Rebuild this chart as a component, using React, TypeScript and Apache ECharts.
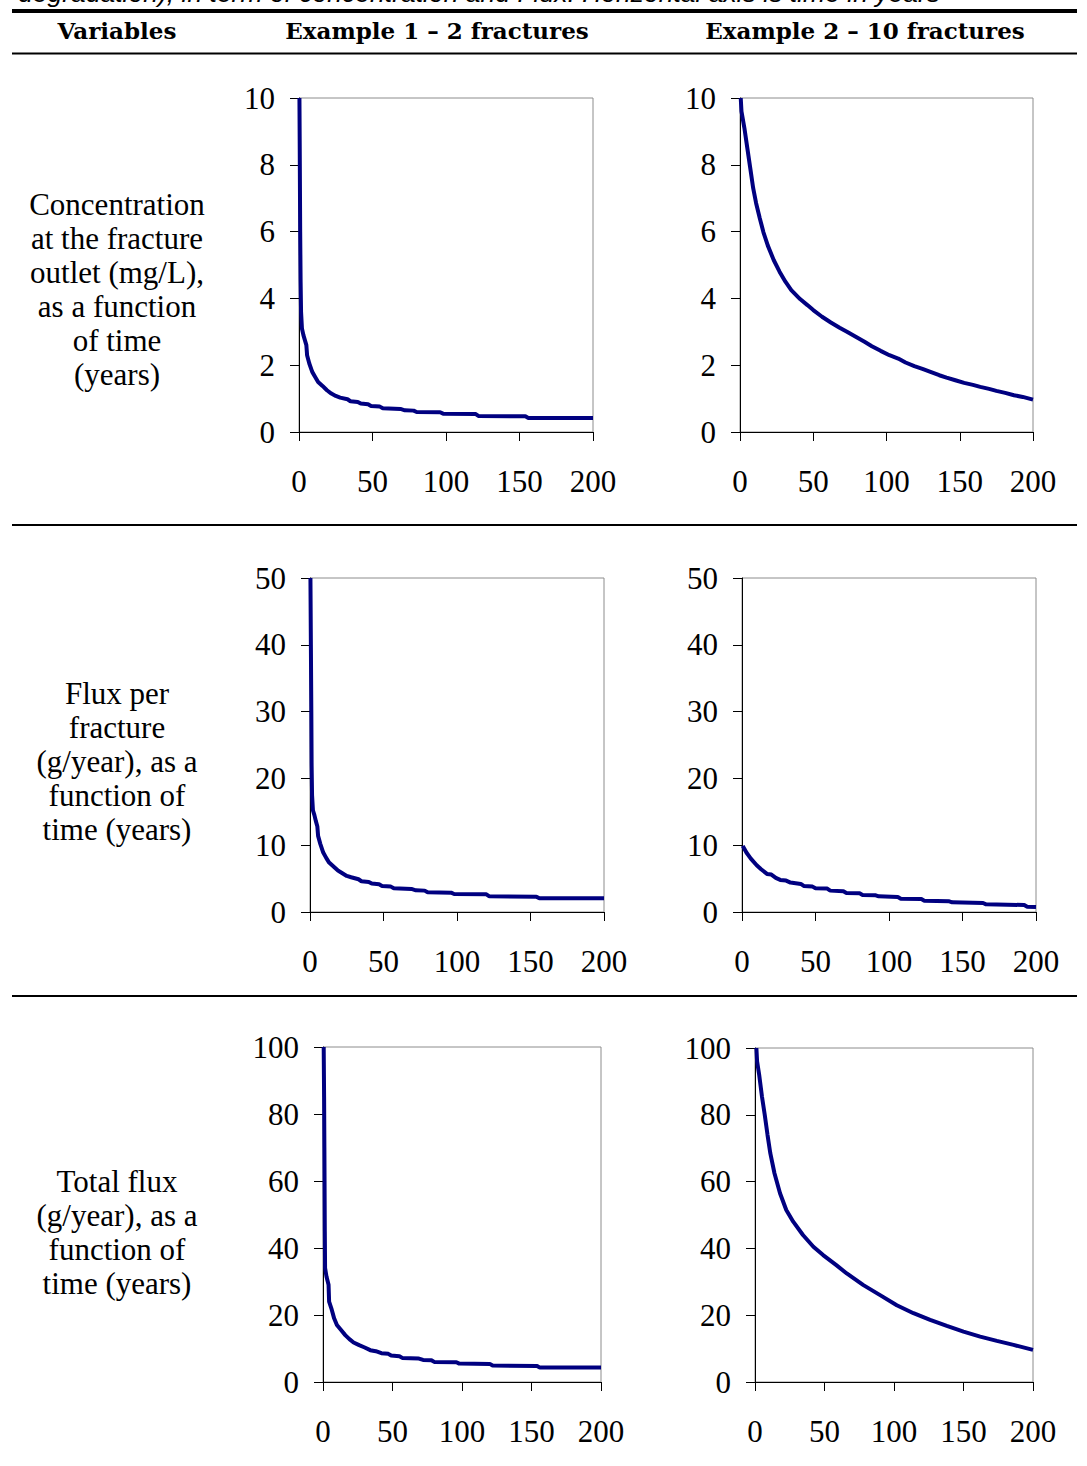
import React, { useEffect, useRef } from "react";
import * as echarts from "echarts";

// ---- Table texts ----
const captionText = "degradation), in term of concentration and Flux. Horizontal axis is time in years";
const headerTexts = ["Variables", "Example 1 – 2 fractures", "Example 2 – 10 fractures"];
const rowLabels = [
  "Concentration\nat the fracture\noutlet (mg/L),\nas a function\nof time\n(years)",
  "Flux per\nfracture\n(g/year), as a\nfunction of\ntime (years)",
  "Total flux\n(g/year), as a\nfunction of\ntime (years)",
];

// ---- Axis ranges ----
const xMax = 200;
const xInterval = 50;
const yMaxByRow = [10, 50, 100];
const yIntervalByRow = [2, 10, 20];

// ---- Data: [time (years), value] ----
const ex1Concentration = [
  [0.3, 10], [0.5, 8.5], [0.8, 6], [1.1, 4.5], [1.4, 3.6], [2, 3.1], [3, 2.9], [4, 2.75], [5, 2.6],
  [5.5, 2.3], [7, 2.05], [9, 1.8], [11, 1.65], [13, 1.5], [16, 1.38], [19, 1.25], [22, 1.15],
  [25, 1.08], [28, 1.03], [33, 0.98], [35, 0.92], [40, 0.9], [42, 0.85], [47, 0.83], [49, 0.78],
  [55, 0.76], [57, 0.71], [69, 0.69], [72, 0.65], [78, 0.64], [80, 0.6], [96, 0.59], [98, 0.55],
  [120, 0.54], [122, 0.48], [154, 0.47], [156, 0.42], [200, 0.42],
];
const ex2Concentration = [
  [0.5, 10], [1, 9.6], [3, 9.1], [5, 8.5], [7, 7.9], [9, 7.3], [11, 6.85], [13.5, 6.4], [16, 5.98],
  [19, 5.58], [23, 5.15], [27, 4.8], [31, 4.5], [35, 4.25], [41, 3.98], [46, 3.8], [50, 3.65],
  [56, 3.45], [62, 3.28], [68, 3.12], [73, 3.0], [79, 2.85], [85, 2.7], [90, 2.57], [96, 2.43],
  [102, 2.3], [108, 2.2], [113, 2.08], [119, 1.97], [125, 1.88], [130, 1.8], [136, 1.7],
  [141, 1.63], [147, 1.55], [153, 1.47], [159, 1.41], [164, 1.35], [170, 1.29], [175, 1.23],
  [181, 1.17], [187, 1.1], [193, 1.05], [200, 0.97],
];
const ex1FluxPerFracture = [
  [0.3, 50], [0.6, 40], [0.9, 30], [1.1, 22], [1.4, 17.5], [2, 15.2], [3, 14.5], [4, 13.6],
  [5, 12.8], [5.5, 11.4], [7, 10.2], [9, 8.9], [11, 8.1], [13, 7.4], [16, 6.8], [19, 6.2],
  [22, 5.8], [25, 5.4], [28, 5.2], [33, 4.9], [35, 4.6], [40, 4.5], [42, 4.25], [47, 4.15],
  [49, 3.9], [55, 3.8], [57, 3.55], [69, 3.45], [72, 3.25], [78, 3.2], [80, 2.95], [96, 2.9],
  [98, 2.7], [120, 2.65], [122, 2.35], [154, 2.3], [156, 2.05], [200, 2.05],
];
const ex2FluxPerFracture = [
  [0.5, 9.9], [3, 8.9], [6, 8.0], [10, 7.0], [13, 6.4], [17, 5.7], [20, 5.6], [23, 5.1],
  [26, 4.8], [30, 4.7], [33, 4.4], [40, 4.2], [42, 3.9], [48, 3.8], [50, 3.55], [58, 3.5],
  [60, 3.2], [69, 3.1], [71, 2.85], [80, 2.8], [82, 2.55], [91, 2.5], [93, 2.35], [106, 2.25],
  [108, 2.0], [122, 1.95], [124, 1.7], [141, 1.6], [143, 1.45], [164, 1.35], [166, 1.15],
  [192, 1.05], [194, 0.8], [200, 0.75],
];
const ex1TotalFlux = [
  [0.5, 100], [0.8, 85], [1, 70], [1.3, 45], [1.5, 34], [2.5, 31.5], [4, 29], [4.4, 24],
  [6, 22], [8, 19], [10, 17], [13, 15.5], [16, 14], [19, 12.8], [22, 11.8], [26, 11],
  [30, 10.3], [34, 9.5], [38, 9.2], [42, 8.6], [47, 8.4], [49, 7.9], [55, 7.7], [57, 7.2],
  [69, 7], [72, 6.6], [78, 6.5], [80, 6.0], [96, 5.9], [98, 5.5], [120, 5.4], [122, 4.9],
  [154, 4.8], [156, 4.3], [200, 4.3],
];
const ex2TotalFlux = [
  [1, 100], [1.5, 96], [3, 92], [5, 85.5], [7, 80], [9, 74], [11, 68.5], [14, 62.5],
  [18, 56.5], [22.5, 51.5], [27.5, 48], [34.5, 44], [42, 40.5], [49, 38], [58.5, 35], [66, 32.5],
  [78, 29], [90, 26], [102, 23], [114, 20.6], [126, 18.6], [138, 16.8], [150, 15.1],
  [162, 13.6], [174, 12.3], [186, 11.1], [200, 9.6],
];

const seriesData = [
  ex1Concentration, ex2Concentration,
  ex1FluxPerFracture, ex2FluxPerFracture,
  ex1TotalFlux, ex2TotalFlux,
];

// ---- Layout (pixels) ----
const gridBoxes = [
  { left: 299, top: 98, width: 294, height: 334 },
  { left: 740, top: 98, width: 293, height: 334 },
  { left: 310, top: 578, width: 294, height: 334 },
  { left: 742, top: 578, width: 294, height: 334 },
  { left: 323, top: 1047, width: 278, height: 335 },
  { left: 755, top: 1048, width: 278, height: 334 },
];

const W = 1087;
const H = 1466;
const SERIF = "'Liberation Serif', 'Times New Roman', serif";
const HEAD = "'DejaVu Serif', serif";

export default function App() {
  const ref = useRef<HTMLDivElement>(null);
  useEffect(() => {
    if (!ref.current) return;
    const chart = echarts.init(ref.current, undefined, { renderer: "svg", width: W, height: H });
    const grids = gridBoxes.map((b) => ({
      ...b,
      show: true,
      borderColor: "#8c8c8c",
      borderWidth: 1,
      backgroundColor: "transparent",
      containLabel: false,
      outerBoundsMode: "none",
    }));
    const xAxes = gridBoxes.map((_, i) => ({
      type: "value",
      gridIndex: i,
      min: 0,
      max: xMax,
      interval: xInterval,
      axisLine: { show: true, onZero: false, lineStyle: { color: "#000", width: 1 } },
      axisTick: { show: true, length: 9, lineStyle: { color: "#000" } },
      axisLabel: { margin: 34, fontFamily: SERIF, fontSize: 31, color: "#000", showMinLabel: true, showMaxLabel: true },
      splitLine: { show: false },
    }));
    const yAxes = gridBoxes.map((_, i) => {
      const r = Math.floor(i / 2);
      return {
        type: "value",
        gridIndex: i,
        min: 0,
        max: yMaxByRow[r],
        interval: yIntervalByRow[r],
        axisLine: { show: true, onZero: false, lineStyle: { color: "#000", width: 1 } },
        axisTick: { show: true, length: 9, lineStyle: { color: "#000" } },
        axisLabel: { margin: 24, fontFamily: SERIF, fontSize: 31, color: "#000", showMinLabel: true, showMaxLabel: true },
        splitLine: { show: false },
      };
    });
    const series = seriesData.map((d, i) => ({
      type: "line",
      xAxisIndex: i,
      yAxisIndex: i,
      data: d,
      showSymbol: false,
      symbol: "none",
      clip: true,
      lineStyle: { color: "#000080", width: 4 },
      silent: true,
    }));

    const rowCenters = [289.5, 761, 1232];
    const graphic: any[] = [
      {
        type: "text",
        x: 18,
        y: -7,
        style: { text: captionText, font: `italic 26.5px 'Liberation Sans', Arial, sans-serif`, fill: "#000", align: "left", verticalAlign: "middle" },
      },
      { type: "line", shape: { x1: 12, y1: 11, x2: 1077, y2: 11 }, style: { stroke: "#000", lineWidth: 4 } },
      { type: "line", shape: { x1: 12, y1: 53.5, x2: 1077, y2: 53.5 }, style: { stroke: "#000", lineWidth: 2 } },
      { type: "line", shape: { x1: 12, y1: 525, x2: 1077, y2: 525 }, style: { stroke: "#000", lineWidth: 2 } },
      { type: "line", shape: { x1: 12, y1: 996, x2: 1077, y2: 996 }, style: { stroke: "#000", lineWidth: 2 } },
      ...headerTexts.map((t, i) => ({
        type: "text",
        x: [117, 437, 865][i],
        y: 30,
        style: { text: t, font: `bold 23px ${HEAD}`, fill: "#000", align: "center", verticalAlign: "middle" },
      })),
      ...rowLabels.map((t, i) => ({
        type: "text",
        x: 117,
        y: rowCenters[i],
        style: { text: t, font: `31px ${SERIF}`, lineHeight: 34, fill: "#000", align: "center", verticalAlign: "middle" },
      })),
    ];

    chart.setOption({
      animation: false,
      backgroundColor: "#fff",
      grid: grids,
      xAxis: xAxes,
      yAxis: yAxes,
      series,
      graphic,
    });
    return () => chart.dispose();
  }, []);
  return <div ref={ref} style={{ position: "absolute", left: 0, top: 0, width: W, height: H }} />;
}
